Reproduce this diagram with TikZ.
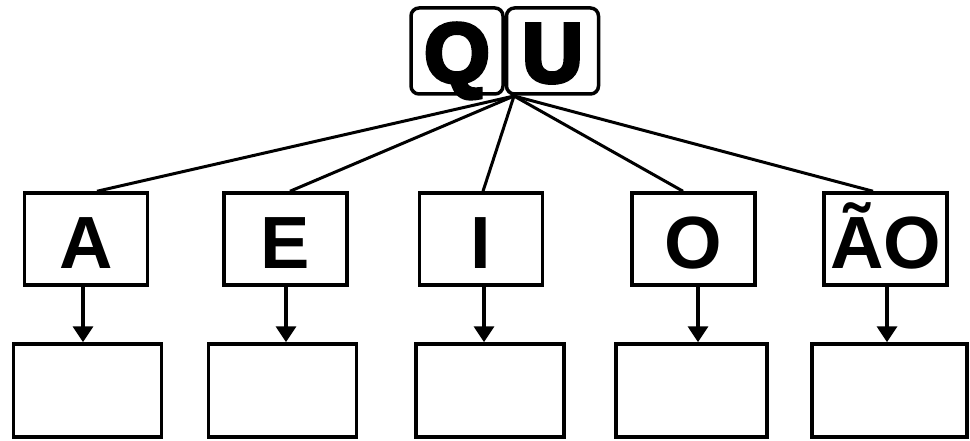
\documentclass[tikz,border=0pt]{standalone}
\usepackage{fontspec}
\setmainfont{Liberation Sans}
\newfontfamily\heavyfont{Liberation Sans}[BoldFeatures={FakeBold=5}]
\usepackage{tikz}
\usetikzlibrary{calc, arrows.meta, positioning}
\newcommand{\qufont}{\heavyfont\bfseries\fontsize{84}{90}\selectfont}
\newcommand{\letterfont}{\bfseries\fontsize{74}{80}\selectfont}
\tikzset{
    roundnode/.style = {draw, rectangle, rounded corners=8pt, line width=3.5pt, inner sep=0pt, 
      node distance=0em, minimum width=92pt, minimum height=86pt, text height=62pt, text depth=0pt, font=\qufont},
    letternode/.style = {draw, rectangle, line width=3.5pt, inner sep=0pt, node distance=0em, 
      minimum width=123pt, minimum height=92pt, text height=60pt, text depth=0pt, font=\letterfont},
    emptynode/.style = {draw, rectangle, line width=3.5pt, inner sep=0pt, node distance=0em, 
      minimum width=148pt, minimum height=93pt},
    connect/.style = {black, line width=3pt},
    arrowto/.style = {black, line width=3.5pt, -{Triangle[width=20pt, length=16pt]}}
}

\begin{document}
\begin{tikzpicture}[x=1pt, y=-1pt]
    \useasboundingbox (0,0) rectangle (970,441);

    \node [name = Q, roundnode] at (457,51) {Q};
    \node [name = U, roundnode, right of = Q, xshift=95.5pt] {U};
    \coordinate (fan) at (514,96);

    \node [name = A, letternode] at (86,239) {A};
    \node [name = E, letternode, right of = A, xshift=199.5pt] {E};
    \node [name = I, letternode, right of = E, xshift=195.5pt] {I};
    \node [name = O, letternode, right of = I, xshift=212.5pt] {O};
    \node [name = AO, letternode, right of = O, xshift=192pt] {ÃO};

    \node [name = boxA, emptynode, below of = A, xshift=1.5pt, yshift=-151.5pt] {};
    \node [name = boxE, emptynode, below of = E, xshift=-3pt, yshift=-151.5pt] {};
    \node [name = boxI, emptynode, below of = I, xshift=9pt, yshift=-151.5pt] {};
    \node [name = boxO, emptynode, below of = O, xshift=-2pt, yshift=-151.5pt, minimum width=151pt] {};
    \node [name = boxAO, emptynode, below of = AO, xshift=4pt, yshift=-151.5pt, minimum width=155pt] {};

    % fan from QU
    \draw [connect] (fan) -- ([xshift=11pt]A.north);
    \draw [connect] (fan) -- ([xshift=4.5pt]E.north);
    \draw [connect] (fan) -- ([xshift=2pt]I.north);
    \draw [connect] (fan) -- ([xshift=-10.5pt]O.north);
    \draw [connect] (fan) -- ([xshift=-12.5pt]AO.north);

    % arrows down
    \draw [arrowto] ([xshift=-3pt]A.south) -- ([xshift=-3pt]A.south |- boxA.north);
    \draw [arrowto] ([xshift=0.5pt]E.south) -- ([xshift=0.5pt]E.south |- boxE.north);
    \draw [arrowto] ([xshift=3pt]I.south) -- ([xshift=3pt]I.south |- boxI.north);
    \draw [arrowto] ([xshift=4.5pt]O.south) -- ([xshift=4.5pt]O.south |- boxO.north);
    \draw [arrowto] ([xshift=1.5pt]AO.south) -- ([xshift=1.5pt]AO.south |- boxAO.north);
\end{tikzpicture}
\end{document}
